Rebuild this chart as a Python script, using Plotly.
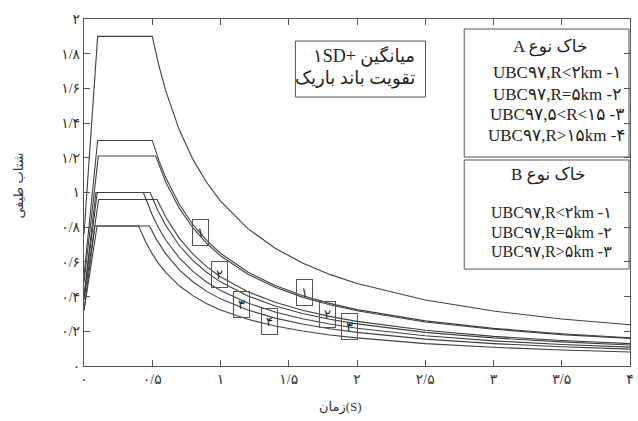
import plotly.graph_objects as go

# ---------------- data ----------------
tail_T = [0.6, 0.7, 0.8, 0.9, 1.0, 1.2, 1.4, 1.6, 1.8, 2.0, 2.5, 3.0, 3.5, 4.0]

sd_T = [0, 0.10, 0.50, 0.55] + tail_T
sd_S = [0.76, 1.90, 1.90, 1.727, 1.583, 1.357, 1.188, 1.056, 0.950, 0.792, 0.679,
        0.594, 0.528, 0.475, 0.380, 0.317, 0.271, 0.238]

a1_T = [0, 0.10, 0.50, 0.55] + tail_T
a1_S = [0.52, 1.30, 1.30, 1.182, 1.083, 0.929, 0.813, 0.722, 0.650, 0.542, 0.464,
        0.406, 0.361, 0.325, 0.260, 0.217, 0.186, 0.163]

b1_T = [0, 0.105, 0.525, 0.56] + tail_T
b1_S = [0.48, 1.21, 1.21, 1.134, 1.058, 0.907, 0.794, 0.706, 0.635, 0.529, 0.454,
        0.397, 0.353, 0.318, 0.254, 0.212, 0.181, 0.159]

a2_T = [0, 0.107, 0.535, 0.57] + tail_T
a2_S = [0.38, 0.96, 0.96, 0.902, 0.857, 0.734, 0.643, 0.571, 0.514, 0.428, 0.367,
        0.321, 0.286, 0.257, 0.206, 0.171, 0.147, 0.129]

b2_T = [0, 0.097, 0.485, 0.54] + tail_T
b2_S = [0.40, 1.00, 1.00, 0.898, 0.808, 0.693, 0.606, 0.539, 0.485, 0.404, 0.346,
        0.303, 0.269, 0.243, 0.194, 0.162, 0.139, 0.121]

b3_T = [0, 0.087, 0.435, 0.47, 0.5, 0.55] + tail_T
b3_S = [0.40, 1.00, 1.00, 0.926, 0.870, 0.791, 0.725, 0.621, 0.544, 0.483, 0.435,
        0.363, 0.311, 0.272, 0.242, 0.218, 0.174, 0.145, 0.124, 0.109]

a3_T = [0, 0.096, 0.48, 0.53] + tail_T
a3_S = [0.32, 0.807, 0.807, 0.730, 0.645, 0.553, 0.484, 0.430, 0.387, 0.323, 0.276,
        0.242, 0.215, 0.194, 0.155, 0.129, 0.111, 0.097]

a4_T = [0, 0.08, 0.40, 0.45, 0.5, 0.55] + tail_T
a4_S = [0.32, 0.807, 0.807, 0.718, 0.646, 0.587, 0.538, 0.461, 0.404, 0.359, 0.323,
        0.269, 0.231, 0.202, 0.179, 0.162, 0.129, 0.108, 0.092, 0.081]

curves = [(sd_T, sd_S), (a1_T, a1_S), (b1_T, b1_S), (a2_T, a2_S),
          (b2_T, b2_S), (b3_T, b3_S), (a3_T, a3_S), (a4_T, a4_S)]

# curve number labels (boxes)
label_text = ["۱", "۲", "۳", "۴", "۱", "۲", "۳"]
label_T = [0.851, 0.993, 1.153, 1.356, 1.618, 1.785, 1.945]
label_S = [0.772, 0.527, 0.357, 0.256, 0.424, 0.294, 0.225]

x_tickvals = [0, 0.5, 1, 1.5, 2, 2.5, 3, 3.5, 4]
x_ticktext = ["۰", "۰/۵", "۱", "۱/۵", "۲", "۲/۵", "۳", "۳/۵", "۴"]
y_tickvals = [0, 0.2, 0.4, 0.6, 0.8, 1.0, 1.2, 1.4, 1.6, 1.8, 2.0]
y_ticktext = ["۰", "۰/۲", "۰/۴", "۰/۶", "۰/۸", "۱", "۱/۲", "۱/۴", "۱/۶", "۱/۸", "۲"]

x_title = "زمان(S)"
y_title = "شتاب طیفی"
note_lines = ["۱SD+ میانگین", "تقویت باند باریک"]
legA_title = "A خاک نوع"
legA_lines = ["UBC۹۷,R&lt;۲km -۱", "UBC۹۷,R=۵km -۲", "UBC۹۷,۵&lt;R&lt;۱۵ -۳", "UBC۹۷,R&gt;۱۵km -۴"]
legB_title = "B خاک نوع"
legB_lines = ["UBC۹۷,R&lt;۲km -۱", "UBC۹۷,R=۵km -۲", "UBC۹۷,R&gt;۵km -۳"]

# ---------------- figure ----------------
FONT = "Liberation Serif, Times New Roman, DejaVu Sans, serif"
LINE = "#404040"
AX = "#555555"

fig = go.Figure()
for T, S in curves:
    fig.add_trace(go.Scatter(x=T, y=S, mode="lines",
                             line=dict(color=LINE, width=1.1),
                             showlegend=False, hoverinfo="skip"))

W, H = 638, 421
L, R, TOP, B = 84, 4, 19, 55
pw, ph = W - L - R, H - TOP - B


def px(x):
    return (x - L) / pw


def py(y):
    return (H - B - y) / ph


def txt_ann(x, y, text, size, xanchor="center", angle=0, color="#222"):
    return dict(x=px(x), y=py(y), xref="paper", yref="paper", text=text,
                showarrow=False, xanchor=xanchor, yanchor="middle", textangle=angle,
                font=dict(size=size, color=color, family=FONT))


annotations = []
for t, s, txt in zip(label_T, label_S, label_text):
    annotations.append(dict(x=t, y=s, xref="x", yref="y", text=txt, showarrow=False,
                            xanchor="center", yanchor="middle",
                            font=dict(size=13, color="#222", family=FONT),
                            bordercolor=AX, borderwidth=1, borderpad=2,
                            width=11, height=21, bgcolor="rgba(0,0,0,0)"))

shapes = []
# note box
shapes.append(dict(type="rect", xref="paper", yref="paper",
                   x0=px(297), x1=px(428), y0=py(97), y1=py(41),
                   line=dict(color=AX, width=1)))
for yy, t in zip([56, 78], note_lines):
    annotations.append(txt_ann(419, yy, t, 18, xanchor="right"))

# legend A
shapes.append(dict(type="rect", xref="paper", yref="paper",
                   x0=px(467), x1=px(633), y0=py(157), y1=py(29),
                   line=dict(color=AX, width=1)))
annotations.append(txt_ann(553, 47, legA_title, 17))
for yy, t in zip([73, 94, 115, 135], legA_lines):
    annotations.append(txt_ann(560, yy, t, 17))

# legend B
shapes.append(dict(type="rect", xref="paper", yref="paper",
                   x0=px(467), x1=px(633), y0=py(269), y1=py(160),
                   line=dict(color=AX, width=1)))
annotations.append(txt_ann(551, 175, legB_title, 17))
for yy, t in zip([212, 232, 251], legB_lines):
    annotations.append(txt_ann(555, yy, t, 16))

# axis titles
annotations.append(txt_ann(19, 185, y_title, 13, angle=-90, color="#333"))
annotations.append(txt_ann(342, 407, x_title, 13, color="#333"))

axis_common = dict(showline=True, linecolor=AX, linewidth=1.2, mirror="ticks",
                   ticks="inside", ticklen=6, tickcolor=AX, tickwidth=1,
                   showgrid=False, zeroline=False,
                   tickfont=dict(size=14, color="#333", family=FONT))

fig.update_layout(
    width=W, height=H,
    margin=dict(l=L, r=R, t=TOP, b=B),
    paper_bgcolor="white", plot_bgcolor="white",
    xaxis=dict(range=[0, 4], tickvals=x_tickvals, ticktext=x_ticktext, **axis_common),
    yaxis=dict(range=[0, 2], tickvals=y_tickvals, ticktext=y_ticktext, **axis_common),
    annotations=annotations, shapes=shapes,
)

fig.write_html("out.html")
